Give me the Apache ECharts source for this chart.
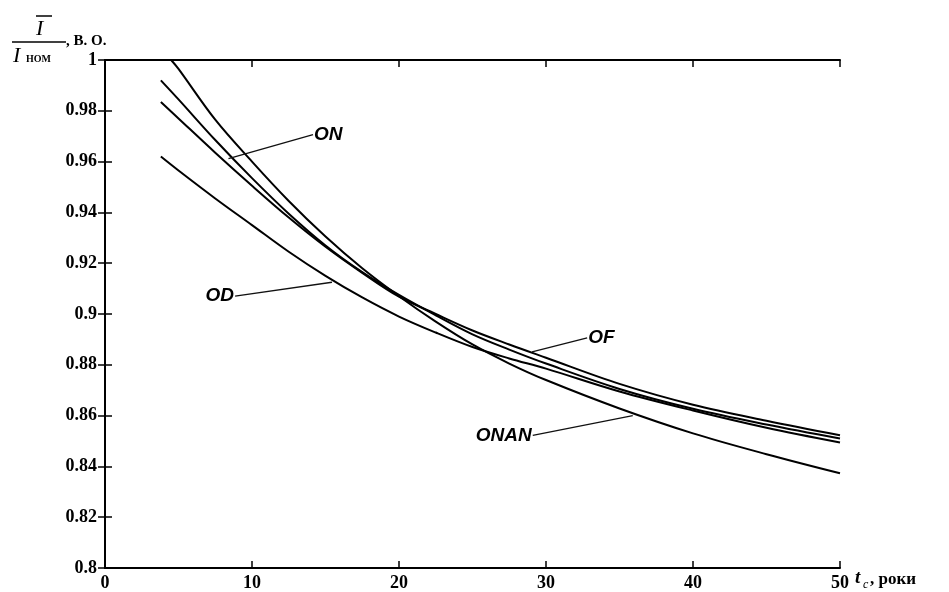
<!DOCTYPE html>
<html>
<head>
<meta charset="utf-8">
<script src="https://cdn.jsdelivr.net/npm/echarts@6/dist/echarts.min.js"></script>
<style>
  html, body { margin: 0; padding: 0; background: #fff; }
  #app { width: 949px; height: 592px; }
</style>
</head>
<body>
<div id="app"></div>
<script>
// роки експлуатації
const xs = [3.8, 5, 7.5, 10, 12.5, 15, 17.5, 20, 22.5, 25, 27.5, 30, 35, 40, 45, 50];
const onanXs = [4.5, 5, 7.5, 10, 12.5, 15, 17.5, 20, 22.5, 25, 27.5, 30, 35, 40, 45, 50];

const onVals = [0.992, 0.9845, 0.9685, 0.9535, 0.9395, 0.927, 0.9165, 0.9075, 0.8995, 0.892, 0.886, 0.8805, 0.8705, 0.8627, 0.8565, 0.851];
const ofVals = [0.9835, 0.977, 0.9635, 0.9505, 0.938, 0.9265, 0.9162, 0.9068, 0.9, 0.8935, 0.888, 0.8828, 0.8725, 0.8643, 0.858, 0.8523];
const odVals = [0.962, 0.9565, 0.9455, 0.935, 0.9245, 0.915, 0.9065, 0.899, 0.8927, 0.887, 0.8825, 0.8785, 0.8695, 0.862, 0.8552, 0.8494];
const onanVals = [1.0, 0.9965, 0.9765, 0.96, 0.9445, 0.9305, 0.918, 0.907, 0.897, 0.888, 0.8805, 0.874, 0.8628, 0.853, 0.8448, 0.8373];

// підписи кривих: текст, початок виноски (біля тексту), кінець виноски (на кривій)
const labelNames = ['ON', 'OD', 'OF', 'ONAN'];
const labelFrom = [[14.15, 0.9706], [8.85, 0.907], [32.8, 0.8906], [29.1, 0.8522]];
const labelTo = [[8.4, 0.9612], [15.44, 0.9125], [29.05, 0.8851], [35.9, 0.860]];
const labelSide = ['right', 'left', 'right', 'left'];

const xTicks = { min: 0, max: 50, interval: 10 };
const yTicks = { min: 0.8, max: 1, interval: 0.02 };

const pairs = (x, y) => x.map((v, i) => [v, y[i]]);

const curve = (name, data) => ({
    name,
    type: 'line',
    data,
    smooth: 0.35,
    symbol: 'none',
    silent: true,
    lineStyle: { color: '#000', width: 2 }
});

const series = [
    curve('ON', pairs(xs, onVals)),
    curve('OF', pairs(xs, ofVals)),
    curve('OD', pairs(xs, odVals)),
    curve('ONAN', pairs(onanXs, onanVals))
];

labelNames.forEach((n, i) => {
    series.push({
        type: 'line',
        data: [labelFrom[i], labelTo[i]],
        symbol: 'none',
        silent: true,
        lineStyle: { color: '#111', width: 1.3 }
    });
    series.push({
        type: 'scatter',
        data: [labelFrom[i]],
        symbolSize: 0,
        silent: true,
        itemStyle: { opacity: 1 },
        label: {
            show: true,
            formatter: n,
            position: labelSide[i],
            distance: 1,
            color: '#000',
            textBorderWidth: 0,
            fontFamily: 'Liberation Sans',
            fontStyle: 'italic',
            fontWeight: 'bold',
            fontSize: 19
        }
    });
});

const tickFont = {
    fontFamily: 'Liberation Serif',
    fontWeight: 'bold',
    fontSize: 18,
    color: '#000'
};
const axLine = { show: true, lineStyle: { color: '#000', width: 2 } };
const axTick = { show: true, inside: true, length: 7, lineStyle: { color: '#000', width: 1.5 } };

const chart = echarts.init(document.getElementById('app'));
chart.setOption({
    backgroundColor: '#fff',
    animation: false,
    grid: { left: 105, right: 109, top: 60, bottom: 22 },
    xAxis: [{
        type: 'value', ...xTicks, position: 'bottom',
        axisLine: axLine, axisTick: axTick, splitLine: { show: false },
        axisLabel: { ...tickFont, margin: 6 }
    }, {
        type: 'value', ...xTicks, position: 'top',
        axisLine: axLine, axisTick: axTick, splitLine: { show: false },
        axisLabel: { show: false }
    }],
    yAxis: [{
        type: 'value', ...yTicks, position: 'left',
        axisLine: axLine, axisTick: axTick, splitLine: { show: false },
        axisLabel: { ...tickFont, margin: 8, formatter: v => String(+v.toFixed(2)) }
    }, {
        type: 'value', ...yTicks, position: 'right',
        axisLine: axLine, axisTick: axTick, splitLine: { show: false },
        axisLabel: { show: false }
    }],
    series,
    graphic: [
        // підпис осі Y: Ī / Iном, в.о.
        { type: 'text', left: 36, top: 18, style: { text: 'I', font: 'italic 22px "Liberation Serif"', fill: '#000' } },
        { type: 'line', shape: { x1: 36, y1: 16, x2: 52, y2: 16 }, style: { stroke: '#000', lineWidth: 1.5 } },
        { type: 'line', shape: { x1: 12, y1: 42, x2: 66, y2: 42 }, style: { stroke: '#000', lineWidth: 1.5 } },
        { type: 'text', left: 13, top: 45, style: { text: 'I', font: 'italic 22px "Liberation Serif"', fill: '#000' } },
        { type: 'text', left: 26, top: 54, style: { text: 'НОМ', font: 'bold 10px "Liberation Serif"', fill: '#000' } },
        { type: 'text', left: 66, top: 34, style: { text: ', В. О.', font: 'bold 15px "Liberation Serif"', fill: '#000' } },
        // підпис осі X: tс, роки
        { type: 'text', left: 855, top: 569, style: { text: 't', font: 'italic bold 19px "Liberation Serif"', fill: '#000' } },
        { type: 'text', left: 863, top: 579, style: { text: 'с', font: 'italic 12px "Liberation Serif"', fill: '#000' } },
        { type: 'text', left: 870, top: 571, style: { text: ', роки', font: 'bold 17px "Liberation Serif"', fill: '#000' } }
    ]
});
</script>
</body>
</html>
